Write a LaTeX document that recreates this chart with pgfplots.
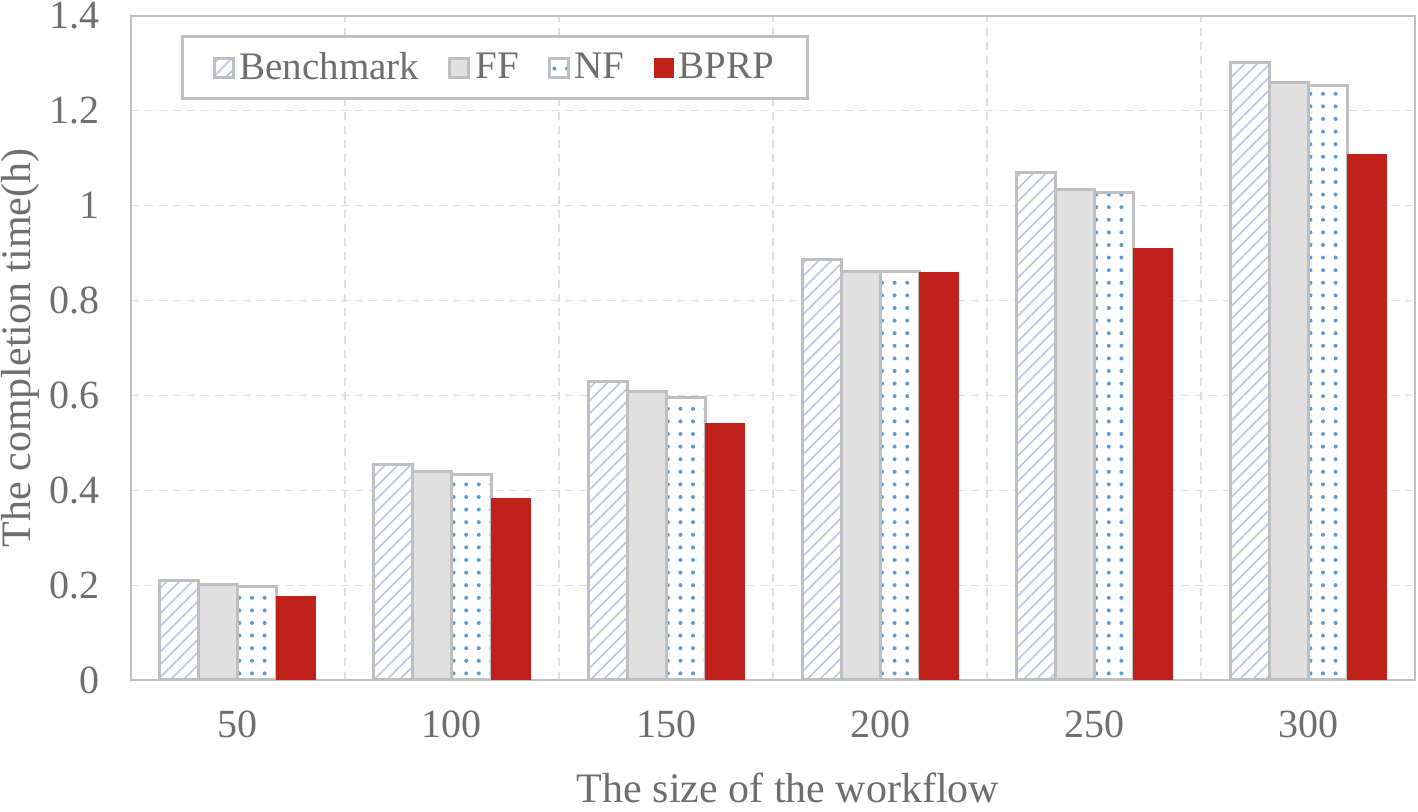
\documentclass[border=0pt]{standalone}
\usepackage{fontspec}
\setmainfont{Liberation Serif}
\usepackage{pgfplots}
\pgfplotsset{compat=1.18}
\usetikzlibrary{patterns.meta}
\definecolor{txt}{RGB}{110,110,110}
\definecolor{framec}{RGB}{191,191,191}
\definecolor{gridc}{RGB}{222,222,222}
\definecolor{hatch}{RGB}{180,199,231}
\definecolor{ffgray}{RGB}{224,224,224}
\definecolor{dotblue}{RGB}{91,155,213}
\definecolor{bprp}{RGB}{192,33,28}
\begin{document}
\begin{tikzpicture}
\begin{axis}[
  scale only axis, width=642pt, height=332pt,
  ybar=0pt, bar width=19.5pt,
  xmin=-0.5, xmax=5.5, ymin=0, ymax=1.4,
  xtick={0,1,2,3,4,5}, xticklabels={50,100,150,200,250,300},
  minor xtick={0.5,1.5,2.5,3.5,4.5},
  ytick={0,0.2,0.4,0.6,0.8,1,1.2,1.4},
  xminorgrids, ymajorgrids,
  grid style={gridc, dash pattern=on 4pt off 3pt, line width=0.6pt},
  minor grid style={gridc, dash pattern=on 4pt off 3pt, line width=0.6pt},
  major tick length=0pt, minor tick length=0pt,
  axis line style={framec, line width=1.2pt},
  /pgf/number format/assume math mode=true,
  tick label style={font=\fontsize{20}{24}\selectfont, text=txt},
  xticklabel style={anchor=center, yshift=-22pt},
  yticklabel style={anchor=east, inner sep=0pt, xshift=-15.5pt},
  ylabel={The completion time(h)},
  xlabel={The size of the workflow},
  label style={font=\fontsize{21}{25}\selectfont, text=txt},
  ylabel style={at={(axis description cs:-0.0864,0.5)}, anchor=center},
  xlabel style={at={(axis description cs:0.5117,-0.162)}, anchor=center},
  legend columns=4,
  legend image code/.code={\draw[#1] (0pt,-4.75pt) rectangle (9.5pt,4.75pt);},
  legend style={at={(0.039,0.9714)}, anchor=north west, draw=framec, line width=1.5pt,
    font=\fontsize{19.5}{23}\selectfont, text=txt, inner xsep=15pt, inner ysep=6pt,
    nodes={inner xsep=2pt},
    /tikz/every odd column/.append style={column sep=0.5pt},
    /tikz/every even column/.append style={column sep=12.5pt}},
]
\addplot[preaction={fill=white}, pattern={Lines[angle=45,distance=4.5pt,line width=0.8pt]}, pattern color=hatch, draw=framec, line width=1.5pt]
  coordinates {(0,0.210) (1,0.454) (2,0.630) (3,0.887) (4,1.069) (5,1.302)};
\addlegendentry{Benchmark}
\addplot[fill=ffgray, draw=framec, line width=1.5pt]
  coordinates {(0,0.201) (1,0.439) (2,0.609) (3,0.861) (4,1.035) (5,1.260)};
\addlegendentry{FF}
\addplot[preaction={fill=white}, pattern={Dots[distance=6.3pt,radius=1pt]}, pattern color=dotblue, draw=framec, line width=1.5pt]
  coordinates {(0,0.197) (1,0.433) (2,0.596) (3,0.861) (4,1.027) (5,1.254)};
\addlegendentry{NF}
\addplot[fill=bprp, draw=bprp, line width=0.5pt]
  coordinates {(0,0.176) (1,0.382) (2,0.541) (3,0.859) (4,0.910) (5,1.107)};
\addlegendentry{BPRP}
\end{axis}
\pgfresetboundingbox
\path (-65.5pt,-66pt) rectangle (643.5pt,340pt);
\end{tikzpicture}
\end{document}
